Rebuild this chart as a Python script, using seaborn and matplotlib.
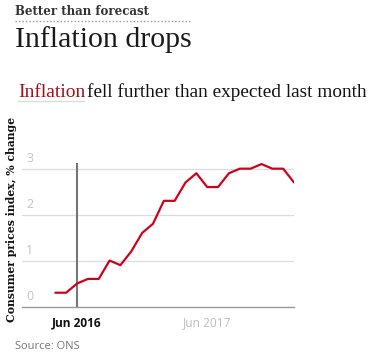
import matplotlib
matplotlib.use("Agg")
import matplotlib.pyplot as plt
import matplotlib.transforms as mtrans
import seaborn as sns
import pandas as pd

# ---- data ----
months = ["Apr 2016", "May 2016", "Jun 2016", "Jul 2016", "Aug 2016", "Sep 2016",
          "Oct 2016", "Nov 2016", "Dec 2016", "Jan 2017", "Feb 2017", "Mar 2017",
          "Apr 2017", "May 2017", "Jun 2017", "Jul 2017", "Aug 2017", "Sep 2017",
          "Oct 2017", "Nov 2017", "Dec 2017", "Jan 2018", "Feb 2018"]
cpi = [0.3, 0.3, 0.5, 0.6, 0.6, 1.0, 0.9, 1.2, 1.6, 1.8, 2.3, 2.3,
       2.7, 2.9, 2.6, 2.6, 2.9, 3.0, 3.0, 3.1, 3.0, 3.0, 2.7]
x_tick_labels = ["Jun 2016", "Jun 2017"]
y_ticks = [0, 1, 2, 3]
marker_month = "Jun 2016"

df = pd.DataFrame({"month": months, "cpi": cpi})
df["idx"] = range(len(df))

sns.set_theme(style="white")
plt.rcParams["font.family"] = ["DejaVu Sans"]

W, H = 378, 357
fig = plt.figure(figsize=(W / 100, H / 100), dpi=100)
fig.patch.set_facecolor("white")

left_px, right_px, top_px, bottom_px = 21.7, 294.0, 162.7, 306.5
ax = fig.add_axes([left_px / W, 1 - bottom_px / H,
                   (right_px - left_px) / W, (bottom_px - top_px) / H])
ax.set_facecolor("white")

# gridlines
for v in y_ticks[1:]:
    ax.axhline(v, color="#dcdcdc", lw=0.9, zorder=1)

# marker vertical line
mi = months.index(marker_month)
ax.axvline(mi, color="#767676", lw=1.5, zorder=2)

sns.lineplot(data=df, x="idx", y="cpi", ax=ax, color="#d0021b", lw=1.6, zorder=3)

ax.set_xlim(-3.1, len(months) - 1)
ax.set_ylim(0, 3.13)

for s in ["top", "right", "left"]:
    ax.spines[s].set_visible(False)
ax.spines["bottom"].set_color("#999999")
ax.spines["bottom"].set_linewidth(1.0)

ax.set_yticks([])
ax.set_xlabel("")
ax.set_ylabel("")

tick_pos = [months.index(l) for l in x_tick_labels]
ax.set_xticks(tick_pos)
ax.set_xticklabels(x_tick_labels)
ax.tick_params(axis="x", length=4, width=1.2, color="#767676", pad=3, labelsize=8.6)
labs = ax.get_xticklabels()
labs[0].set_fontweight("bold")
labs[0].set_color("#121212")
labs[1].set_color("#bdbdbd")
for l in labs:
    l.set_fontfamily(["Open Sans", "DejaVu Sans"])
ax.xaxis.get_major_ticks()[0].tick1line.set_visible(False)

# y tick labels inside, above the gridlines
tr = mtrans.blended_transform_factory(ax.transAxes, ax.transData)
off = mtrans.ScaledTranslation(0, 4 / 100, fig.dpi_scale_trans)
for v in y_ticks:
    ax.text(0.016, v, str(v), transform=tr + off, ha="left", va="bottom",
            fontsize=8.8, color="#c4c4c4", family=["Open Sans", "DejaVu Sans"])

# y label
fig.text(12 / W, 1 - 219 / H, "Consumer prices index, % change", rotation=90,
         ha="center", va="center", fontsize=7.8, fontweight="bold",
         family=["DejaVu Serif"], color="#121212")

# titles
fig.text(15 / W, 1 - 15 / H, "Better than forecast", ha="left", va="baseline",
         fontsize=8.5, fontweight="bold", family=["DejaVu Serif"], color="#333333")
fig.add_artist(plt.Line2D([15 / W, 192 / W], [1 - 21 / H, 1 - 21 / H],
                          color="#9a9a9a", lw=1, ls=(0, (1, 1.5))))
fig.text(15 / W, 1 - 47 / H, "Inflation drops", ha="left", va="baseline",
         fontsize=21.5, family=["Liberation Serif"], color="#1a1a1a")
fig.text(18 / W, 1 - 96.7 / H, "Inflation", ha="left", va="baseline",
         fontsize=14, family=["Liberation Serif"], color="#a1121d")
fig.add_artist(plt.Line2D([18 / W, 84 / W], [1 - 100.7 / H, 1 - 100.7 / H],
                          color="#dcdcdc", lw=1))
fig.text(87.3 / W, 1 - 96.7 / H, "fell further than expected last month",
         ha="left", va="baseline", fontsize=13.9, family=["Liberation Serif"],
         color="#121212")

fig.text(15 / W, 1 - 346.7 / H, "Source: ONS", ha="left", va="center",
         fontsize=8, family=["Open Sans", "DejaVu Sans"], color="#767676")

fig.savefig("out.png", dpi=100, facecolor="white")
